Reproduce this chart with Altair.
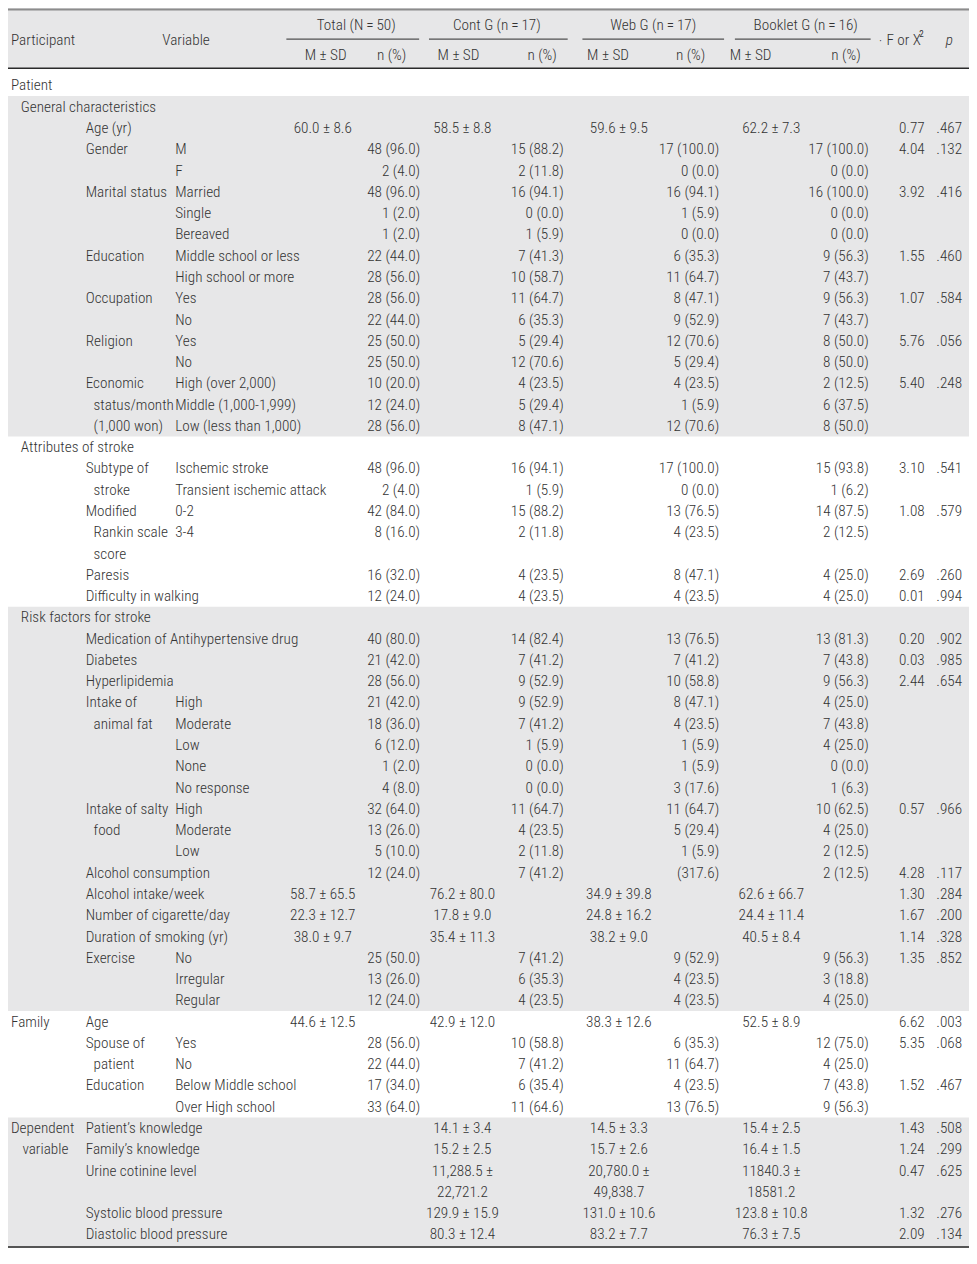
import altair as alt
import pandas as pd

# ---------------- data ----------------
part = [""] * 55
part[0] = "Patient"
part[44] = "Family"
part[49] = "Dependent"

part_cont = [""] * 55
part_cont[50] = "variable"

section = [""] * 55
section[1] = "General characteristics"
section[17] = "Attributes of stroke"
section[25] = "Risk factors for stroke"

var = ["", "", "Age (yr)", "Gender", "", "Marital status", "", "", "Education", "",
       "Occupation", "", "Religion", "", "Economic", "", "",
       "", "Subtype of", "", "Modified", "", "",
       "Paresis", "Difficulty in walking",
       "", "Medication of Antihypertensive drug", "Diabetes", "Hyperlipidemia",
       "Intake of", "", "", "", "",
       "Intake of salty", "", "", "Alcohol consumption", "Alcohol intake/week",
       "Number of cigarette/day", "Duration of smoking (yr)", "Exercise", "", "",
       "Age", "Spouse of", "", "Education", "",
       "Patient\u2019s knowledge", "Family\u2019s knowledge", "Urine cotinine level", "",
       "Systolic blood pressure", "Diastolic blood pressure"]

var_cont = [""] * 55
var_cont[15] = "status/month"
var_cont[16] = "(1,000 won)"
var_cont[19] = "stroke"
var_cont[21] = "Rankin scale"
var_cont[22] = "score"
var_cont[30] = "animal fat"
var_cont[35] = "food"
var_cont[46] = "patient"

sub = ["", "", "", "M", "F", "Married", "Single", "Bereaved", "Middle school or less",
       "High school or more", "Yes", "No", "Yes", "No", "High (over 2,000)",
       "Middle (1,000-1,999)", "Low (less than 1,000)",
       "", "Ischemic stroke", "Transient ischemic attack", "0-2", "3-4", "", "", "",
       "", "", "", "", "High", "Moderate", "Low", "None", "No response",
       "High", "Moderate", "Low", "", "", "", "", "No", "Irregular", "Regular",
       "", "Yes", "No", "Below Middle school", "Over High school",
       "", "", "", "", "", ""]

tot_m = [""] * 55
tot_m[2] = "60.0 \u00b1 8.6"; tot_m[38] = "58.7 \u00b1 65.5"; tot_m[39] = "22.3 \u00b1 12.7"
tot_m[40] = "38.0 \u00b1 9.7"; tot_m[44] = "44.6 \u00b1 12.5"

cont_m = [""] * 55
cont_m[2] = "58.5 \u00b1 8.8"; cont_m[38] = "76.2 \u00b1 80.0"; cont_m[39] = "17.8 \u00b1 9.0"
cont_m[40] = "35.4 \u00b1 11.3"; cont_m[44] = "42.9 \u00b1 12.0"
cont_m[49] = "14.1 \u00b1 3.4"; cont_m[50] = "15.2 \u00b1 2.5"; cont_m[51] = "11,288.5 \u00b1"
cont_m[52] = "22,721.2"; cont_m[53] = "129.9 \u00b1 15.9"; cont_m[54] = "80.3 \u00b1 12.4"

web_m = [""] * 55
web_m[2] = "59.6 \u00b1 9.5"; web_m[38] = "34.9 \u00b1 39.8"; web_m[39] = "24.8 \u00b1 16.2"
web_m[40] = "38.2 \u00b1 9.0"; web_m[44] = "38.3 \u00b1 12.6"
web_m[49] = "14.5 \u00b1 3.3"; web_m[50] = "15.7 \u00b1 2.6"; web_m[51] = "20,780.0 \u00b1"
web_m[52] = "49,838.7"; web_m[53] = "131.0 \u00b1 10.6"; web_m[54] = "83.2 \u00b1 7.7"

book_m = [""] * 55
book_m[2] = "62.2 \u00b1 7.3"; book_m[38] = "62.6 \u00b1 66.7"; book_m[39] = "24.4 \u00b1 11.4"
book_m[40] = "40.5 \u00b1 8.4"; book_m[44] = "52.5 \u00b1 8.9"
book_m[49] = "15.4 \u00b1 2.5"; book_m[50] = "16.4 \u00b1 1.5"; book_m[51] = "11840.3 \u00b1"
book_m[52] = "18581.2"; book_m[53] = "123.8 \u00b1 10.8"; book_m[54] = "76.3 \u00b1 7.5"

tot_n = ["", "", "", "48 (96.0)", "2 (4.0)", "48 (96.0)", "1 (2.0)", "1 (2.0)", "22 (44.0)",
         "28 (56.0)", "28 (56.0)", "22 (44.0)", "25 (50.0)", "25 (50.0)", "10 (20.0)",
         "12 (24.0)", "28 (56.0)", "", "48 (96.0)", "2 (4.0)", "42 (84.0)", "8 (16.0)", "",
         "16 (32.0)", "12 (24.0)", "", "40 (80.0)", "21 (42.0)", "28 (56.0)", "21 (42.0)",
         "18 (36.0)", "6 (12.0)", "1 (2.0)", "4 (8.0)", "32 (64.0)", "13 (26.0)", "5 (10.0)",
         "12 (24.0)", "", "", "", "25 (50.0)", "13 (26.0)", "12 (24.0)", "", "28 (56.0)",
         "22 (44.0)", "17 (34.0)", "33 (64.0)", "", "", "", "", "", ""]

cont_n = ["", "", "", "15 (88.2)", "2 (11.8)", "16 (94.1)", "0 (0.0)", "1 (5.9)", "7 (41.3)",
          "10 (58.7)", "11 (64.7)", "6 (35.3)", "5 (29.4)", "12 (70.6)", "4 (23.5)",
          "5 (29.4)", "8 (47.1)", "", "16 (94.1)", "1 (5.9)", "15 (88.2)", "2 (11.8)", "",
          "4 (23.5)", "4 (23.5)", "", "14 (82.4)", "7 (41.2)", "9 (52.9)", "9 (52.9)",
          "7 (41.2)", "1 (5.9)", "0 (0.0)", "0 (0.0)", "11 (64.7)", "4 (23.5)", "2 (11.8)",
          "7 (41.2)", "", "", "", "7 (41.2)", "6 (35.3)", "4 (23.5)", "", "10 (58.8)",
          "7 (41.2)", "6 (35.4)", "11 (64.6)", "", "", "", "", "", ""]

web_n = ["", "", "", "17 (100.0)", "0 (0.0)", "16 (94.1)", "1 (5.9)", "0 (0.0)", "6 (35.3)",
         "11 (64.7)", "8 (47.1)", "9 (52.9)", "12 (70.6)", "5 (29.4)", "4 (23.5)",
         "1 (5.9)", "12 (70.6)", "", "17 (100.0)", "0 (0.0)", "13 (76.5)", "4 (23.5)", "",
         "8 (47.1)", "4 (23.5)", "", "13 (76.5)", "7 (41.2)", "10 (58.8)", "8 (47.1)",
         "4 (23.5)", "1 (5.9)", "1 (5.9)", "3 (17.6)", "11 (64.7)", "5 (29.4)", "1 (5.9)",
         "(317.6)", "", "", "", "9 (52.9)", "4 (23.5)", "4 (23.5)", "", "6 (35.3)",
         "11 (64.7)", "4 (23.5)", "13 (76.5)", "", "", "", "", "", ""]

book_n = ["", "", "", "17 (100.0)", "0 (0.0)", "16 (100.0)", "0 (0.0)", "0 (0.0)", "9 (56.3)",
          "7 (43.7)", "9 (56.3)", "7 (43.7)", "8 (50.0)", "8 (50.0)", "2 (12.5)",
          "6 (37.5)", "8 (50.0)", "", "15 (93.8)", "1 (6.2)", "14 (87.5)", "2 (12.5)", "",
          "4 (25.0)", "4 (25.0)", "", "13 (81.3)", "7 (43.8)", "9 (56.3)", "4 (25.0)",
          "7 (43.8)", "4 (25.0)", "0 (0.0)", "1 (6.3)", "10 (62.5)", "4 (25.0)", "2 (12.5)",
          "2 (12.5)", "", "", "", "9 (56.3)", "3 (18.8)", "4 (25.0)", "", "12 (75.0)",
          "4 (25.0)", "7 (43.8)", "9 (56.3)", "", "", "", "", "", ""]

f_val = [""] * 55
p_val = [""] * 55
for r, fv, pv in [(2, "0.77", ".467"), (3, "4.04", ".132"), (5, "3.92", ".416"),
                  (8, "1.55", ".460"), (10, "1.07", ".584"), (12, "5.76", ".056"),
                  (14, "5.40", ".248"), (18, "3.10", ".541"), (20, "1.08", ".579"),
                  (23, "2.69", ".260"), (24, "0.01", ".994"), (26, "0.20", ".902"),
                  (27, "0.03", ".985"), (28, "2.44", ".654"), (34, "0.57", ".966"),
                  (37, "4.28", ".117"), (38, "1.30", ".284"), (39, "1.67", ".200"),
                  (40, "1.14", ".328"), (41, "1.35", ".852"), (44, "6.62", ".003"),
                  (45, "5.35", ".068"), (47, "1.52", ".467"), (49, "1.43", ".508"),
                  (50, "1.24", ".299"), (51, "0.47", ".625"), (53, "1.32", ".276"),
                  (54, "2.09", ".134")]:
    f_val[r] = fv
    p_val[r] = pv

group_titles = ["Total (N\u2009=\u200950)", "Cont G (n\u2009=\u200917)",
                "Web G (n\u2009=\u200917)", "Booklet G (n\u2009=\u200916)"]
band_start = [1, 25, 49]
band_end = [16, 43, 54]

# ---------------- layout (reference pixels) ----------------
W, H = 961, 1248
SX, SY = W / 977, H / 1264
ROW0, PITCH = 78.45, 21.55
r_top = (0 - ROW0) / PITCH
r_bot = (1264 - ROW0) / PITCH

col_layout = {
    "part": (3, "left"), "part_cont": (38, "center"), "section": (13, "left"),
    "var": (79, "left"), "var_cont": (87, "left"), "sub": (170, "left"),
    "tot_m": (320, "center"), "cont_m": (462, "center"), "web_m": (621, "center"),
    "book_m": (776, "center"),
    "tot_n": (419, "right"), "cont_n": (565, "right"), "web_n": (723, "right"),
    "book_n": (875, "right"), "f_val": (932, "right"), "p_val": (970, "right"),
}

cols = {"part": part, "part_cont": part_cont, "section": section, "var": var,
        "var_cont": var_cont, "sub": sub,
        "tot_m": tot_m, "cont_m": cont_m, "web_m": web_m, "book_m": book_m,
        "tot_n": tot_n, "cont_n": cont_n, "web_n": web_n, "book_n": book_n,
        "f_val": f_val, "p_val": p_val}

recs = []
for c, vals in cols.items():
    for r, t in enumerate(vals):
        if t:
            recs.append({"row": r, "col": c, "text": t,
                         "xs": col_layout[c][0] * SX, "align": col_layout[c][1]})
cells = pd.DataFrame(recs)

FONT = "Roboto Condensed"
FS = 15.2
FW = 300
COLOR = "#333333"

yscale = alt.Scale(domain=[r_top, r_bot], reverse=True, nice=False, zero=False)


def text_layer(align):
    return alt.Chart(cells[cells["align"] == align]).mark_text(
        align=align, baseline="middle", font=FONT, fontSize=FS, fontWeight=FW, color=COLOR
    ).encode(
        x=alt.X("xs:Q", scale=None, axis=None),
        y=alt.Y("row:Q", scale=yscale, axis=None),
        text="text:N",
    )


bands = pd.DataFrame({"s": [b - 0.5 for b in band_start], "e": [b + 0.5 for b in band_end]})
bands.loc[len(bands) - 1, "e"] = (1254 - ROW0) / PITCH
GRAY = "#e7e7e8"
band_layer = alt.Chart(bands).mark_rect(color=GRAY).encode(
    x=alt.value(0), x2=alt.value(W),
    y=alt.Y("s:Q", scale=yscale, axis=None), y2="e:Q",
)
header_bg = alt.Chart(pd.DataFrame({"a": [0]})).mark_rect(color=GRAY).encode(
    x=alt.value(0), x2=alt.value(W), y=alt.value(0), y2=alt.value(61 * SY)
)


def hrule(y, x1, x2, color, sw):
    return alt.Chart(pd.DataFrame({"a": [0]})).mark_rule(color=color, strokeWidth=sw).encode(
        x=alt.value(x1 * SX), x2=alt.value(x2 * SX), y=alt.value(y * SY)
    )


rules = [
    hrule(1.5, 0, 977, "#8c8c8c", 2),
    hrule(61, 0, 977, "#2a2a2a", 1.3),
    hrule(1255, 0, 977, "#555555", 2),
    hrule(31.5, 283, 418, "#2a2a2a", 1),
    hrule(31.5, 428, 569, "#2a2a2a", 1),
    hrule(31.5, 584, 728, "#2a2a2a", 1),
    hrule(31.5, 739, 877, "#2a2a2a", 1),
]

# header texts
hdr = pd.DataFrame({
    "text": ["Participant", "Variable"] + group_titles +
            ["M \u00b1 SD", "n (%)"] * 4 + ["\u00b7", "F or \u03a7"],
    "x": [3, 181, 354, 497, 656, 811, 323, 390, 458, 543, 610, 694, 755, 852, 887, 893],
    "y": [32, 32, 17, 17, 17, 17, 48, 48, 48, 48, 48, 48, 48, 48, 33, 32],
    "align": ["left", "center"] + ["center"] * 12 + ["center", "left"],
})
hdr["xs"] = hdr["x"] * SX
hdr["ys"] = hdr["y"] * SY
hdr_layers = []
for al in ["left", "center"]:
    sub_df = hdr[hdr["align"] == al]
    hdr_layers.append(
        alt.Chart(sub_df).mark_text(align=al, baseline="middle", font=FONT, fontSize=FS,
                                    fontWeight=FW, color=COLOR).encode(
            x=alt.X("xs:Q", scale=None), y=alt.Y("ys:Q", scale=None), text="text:N")
    )
sup = alt.Chart(pd.DataFrame({"t": ["2"], "xs": [926.5 * SX], "ys": [26 * SY]})).mark_text(
    align="left", baseline="middle", font=FONT, fontSize=9, color=COLOR).encode(
    x=alt.X("xs:Q", scale=None), y=alt.Y("ys:Q", scale=None), text="t:N")
pchar = alt.Chart(pd.DataFrame({"t": ["p"], "xs": [957 * SX], "ys": [32 * SY]})).mark_text(
    align="center", baseline="middle", font=FONT, fontSize=FS, fontStyle="italic",
    fontWeight=FW, color=COLOR).encode(
    x=alt.X("xs:Q", scale=None), y=alt.Y("ys:Q", scale=None), text="t:N")

chart = alt.layer(
    header_bg, band_layer, *rules,
    text_layer("left"), text_layer("center"), text_layer("right"),
    *hdr_layers, sup, pchar,
).properties(
    width=W, height=H, padding=0, autosize="none", background="white"
).configure_view(stroke=None)

chart.save("out.html", embed_options={"renderer": "svg", "actions": False})
